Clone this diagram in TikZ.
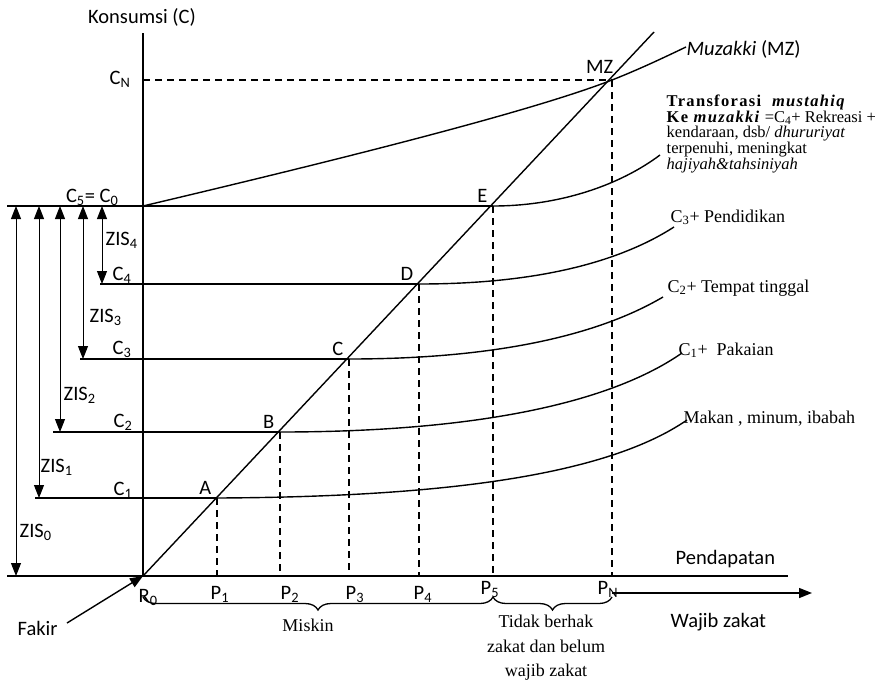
\documentclass[tikz,border=0pt]{standalone}
\usepackage{fontspec}
\setmainfont{Liberation Serif}
\setsansfont{Carlito}
\usetikzlibrary{arrows.meta,decorations.pathreplacing}

\begin{document}
\begin{tikzpicture}[x=1pt, y=-1pt, font=\fontsize{20.5}{24}\sffamily, line width=1.4pt,
	guide/.style={line width=1.2pt, dash pattern=on 7pt off 5pt},
	tip/.style={-{Triangle[length=13pt,width=10pt]}},
	zis/.style={{Triangle[length=13pt,width=10pt]}-{Triangle[length=13pt,width=10pt]}},
	lbl/.style={inner sep=0pt},
	note/.style={inner sep=0pt, anchor=base west, font=\fontsize{18}{20}\rmfamily},
	block/.style={inner sep=0pt, anchor=north west, align=left, font=\fontsize{16.5}{15.8}\rmfamily},
	brace/.style={decorate, decoration={brace, mirror, amplitude=13pt}, line width=1.3pt}]
	\useasboundingbox (0,0) rectangle (883,683);
	%axis
	\coordinate (O) at (143,576);
	\coordinate (y top) at (143,33);
	\coordinate (x left) at (7,576);
	\coordinate (x right) at (788,576);
	\draw (y top) -- (O);
	\draw (x left) -- (x right);
	\node[lbl, anchor=base] (y label) at (142,23) {Konsumsi (C)};
	\node[lbl, anchor=base west] (x label) at (675,564) {Pendapatan};
	%diagonal and muzakki
	\coordinate (diag top) at (654,32);
	\coordinate (MZ) at (612,80);
	\coordinate (C0) at (143,206);
	\coordinate (mz end) at (686,47);
	\draw (O) -- (diag top);
	\draw (C0) .. controls (380,150) and (540,108) .. (MZ)
		.. controls (640,69) and (665,57) .. (mz end);
	\node[lbl, anchor=base west] (mz label) at (686,55) {\textit{Muzakki} (MZ)};
	\node[lbl, anchor=base east] (mz point) at (614,73) {MZ};
	\draw[guide] (O |- MZ) -- (MZ);
	\draw[guide] (MZ) -- (MZ |- O);
	\node[lbl, anchor=base east] (CN) at (131,84) {C\textsubscript{N}};
	%levels
	\foreach \n/\x/\y/\l/\ax/\ay/\bx/\by/\ex/\ey in {
		E/493/206/7/560/206/620/185/660/155,
		D/419/284/100/520/284/610/268/674/227,
		C/349/359/80/480/359/590/340/663/297,
		B/280/432/53/450/432/600/410/682/353,
		A/217/498/35/420/497/600/480/687/420%
	}{
		\coordinate (\n) at (\x,\y);
		\coordinate (\n left) at (\l,\y);
		\coordinate (\n end) at (\ex,\ey);
		\draw (\n left) -- (\n);
		\draw (\n) .. controls (\ax,\ay) and (\bx,\by) .. (\n end);
		\draw[guide] (\n) -- (\n |- O);
		\node[lbl, anchor=base east] (\n label) at (\x-5,\y-4) {\n};
	}
	%level labels
	\node[lbl, anchor=base east] (C5) at (119,202) {C\textsubscript{5}= C\textsubscript{0}};
	\node[lbl, anchor=base east] (C4) at (132,280) {C\textsubscript{4}};
	\node[lbl, anchor=base east] (C3) at (132,354) {C\textsubscript{3}};
	\node[lbl, anchor=base east] (C2) at (133,427) {C\textsubscript{2}};
	\node[lbl, anchor=base east] (C1) at (133,495) {C\textsubscript{1}};
	%zis arrows
	\foreach \x/\lev in {102/D, 83/C, 60/B, 39/A, 16/O}
		\draw[zis, line width=1pt] (\x,206) -- (\x,0 |- \lev);
	\node[lbl, anchor=base west] (zis4) at (105,245) {ZIS\textsubscript{4}};
	\node[lbl, anchor=base west] (zis3) at (89,322) {ZIS\textsubscript{3}};
	\node[lbl, anchor=base west] (zis2) at (63,400) {ZIS\textsubscript{2}};
	\node[lbl, anchor=base west] (zis1) at (40,472) {ZIS\textsubscript{1}};
	\node[lbl, anchor=base west] (zis0) at (19,537) {ZIS\textsubscript{0}};
	%right notes
	\node[note] (n3) at (670,222) {C\textsubscript{3}+ Pendidikan};
	\node[note] (n2) at (667,292) {C\textsubscript{2}+ Tempat tinggal};
	\node[note] (n1) at (678,355) {C\textsubscript{1}+~ Pakaian};
	\node[note] (n0) at (683,423) {Makan , minum, ibabah};
	\node[block] (transforasi) at (666,94) {{\addfontfeature{LetterSpace=8}\textbf{Transforasi ~\textit{mustahiq}}}\\
		{\addfontfeature{LetterSpace=8}\textbf{Ke \textit{muzakki}}} =C\textsubscript{4}+ Rekreasi +\\
		kendaraan, dsb/ \textit{dhururiyat}\\
		terpenuhi, meningkat\\
		\textit{hajiyah\&tahsiniyah}};
	%income ticks
	\node[lbl, anchor=base west] (R0) at (138,602) {R\textsubscript{0}};
	\foreach \n/\x/\y in {1/210/599, 2/280/599, 3/345/599, 4/413/599, 5/480/594, N/597/594}
		\node[lbl, anchor=base west] (P\n) at (\x,\y) {P\textsubscript{\n}};
	%braces
	\draw[brace] (143,597) -- (493,597);
	\draw[brace] (493,597) -- (612,597);
	\node[note, anchor=base] (miskin) at (308,631) {Miskin};
	\node[note, anchor=base] (tidak1) at (546,627) {Tidak berhak};
	\node[note, anchor=base] (tidak2) at (546,652) {zakat dan belum};
	\node[note, anchor=base] (tidak3) at (546,676) {wajib zakat};
	%arrows
	\coordinate (wz start) at (612,593);
	\coordinate (wz end) at (812,593);
	\draw[tip] (wz start) -- (wz end);
	\node[lbl, anchor=base west] (wajib) at (670,627) {Wajib zakat};
	\coordinate (fakir tail) at (67,623);
	\draw[tip] (fakir tail) -- (O);
	\node[lbl, anchor=base west] (fakir) at (17,635) {Fakir};
\end{tikzpicture}
\end{document}
